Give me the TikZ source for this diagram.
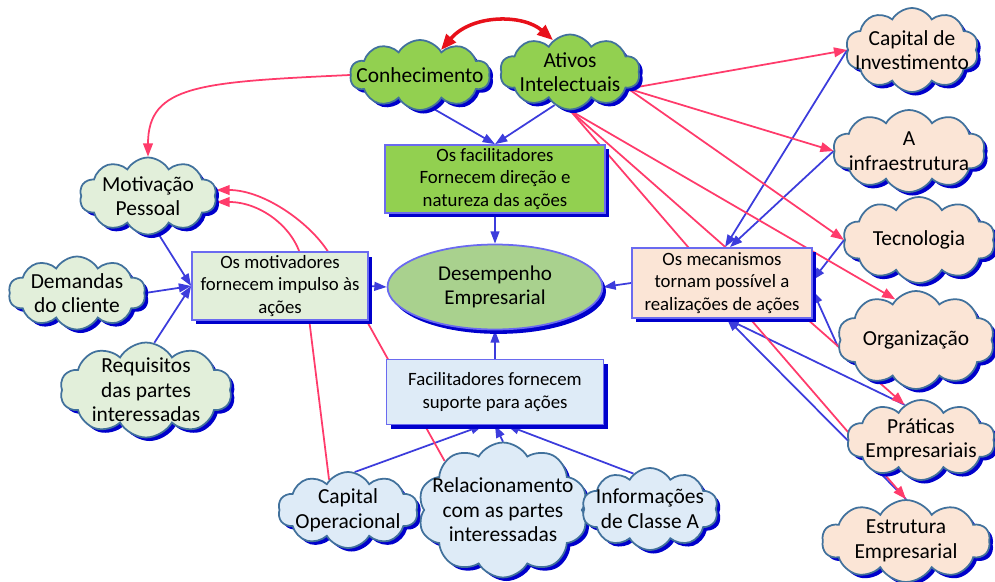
\documentclass[tikz,border=0pt]{standalone}
\usepackage{fontspec}
\setmainfont{Carlito}
\usetikzlibrary{shapes.symbols,shapes.geometric,arrows.meta,shadows,backgrounds,calc}
\definecolor{cloudB}{HTML}{41719C}
\definecolor{gr}{HTML}{92D050}
\definecolor{lgr}{HTML}{E2EFDA}
\definecolor{pch}{HTML}{FBE5D6}
\definecolor{lbl}{HTML}{DEEBF7}
\definecolor{ell}{HTML}{A9D18E}
\definecolor{shB}{HTML}{0000CC}
\definecolor{boxB}{HTML}{6A6AF0}
\definecolor{lnB}{HTML}{3C3CDC}
\definecolor{lnR}{HTML}{FF3B6B}
\definecolor{arR}{HTML}{E8101A}
\begin{document}
\begin{tikzpicture}[x=0.02cm,y=0.02cm,
  cl/.style={cloud, cloud puffs=10, cloud puff arc=120, cloud ignores aspect,
    draw=cloudB, line width=1pt, inner xsep=-22pt, inner ysep=-4pt, align=center,
    font=\fontsize{12.2}{14}\selectfont,
    drop shadow={fill=shB,opacity=1,shadow xshift=2pt,shadow yshift=-2pt}},
  bx/.style={rectangle, draw=boxB, line width=1pt, align=center, inner sep=2pt,
    font=\fontsize{10.7}{12.6}\selectfont,
    drop shadow={fill=shB,opacity=1,shadow xshift=2.5pt,shadow yshift=-2.5pt}},
  bl/.style={draw=lnB, line width=1pt, -{Triangle[length=7pt,width=5pt]}},
  rd/.style={draw=lnR, line width=1pt, -{Triangle[length=7.5pt,width=5.5pt]}},
]
\useasboundingbox (0,0) rectangle (995,-582);

% central
\node[cl, fill=gr, minimum width=2.8cm, minimum height=1.4cm] (conh) at (420,-75) {Conhecimento};
\node[cl, fill=gr, minimum width=2.8cm, minimum height=1.5cm] (ativos) at (570,-72) {Ativos\\Intelectuais};
\node[bx, fill=gr, minimum width=4.4cm, minimum height=1.36cm] (fac) at (495,-179) {Os facilitadores\\Fornecem direção e\\natureza das ações};
\node[ellipse, fill=ell, draw=boxB, line width=1pt, minimum width=4.3cm, minimum height=1.7cm,
  inner sep=0pt, align=center, font=\fontsize{12}{13.5}\selectfont,
  drop shadow={fill=shB,opacity=1,shadow xshift=2pt,shadow yshift=-2.5pt}] (des) at (495,-287) {Desempenho\\Empresarial};
\node[bx, fill=lgr, minimum width=3.52cm, minimum height=1.34cm] (motv) at (280,-286) {Os motivadores\\fornecem impulso às\\ações};
\node[bx, fill=pch, minimum width=3.6cm, minimum height=1.4cm] (mec) at (722,-283) {Os mecanismos\\tornam possível a\\realizações de ações};
\node[bx, fill=lbl, minimum width=4.34cm, minimum height=1.3cm] (sup) at (495,-392) {Facilitadores fornecem\\suporte para ações};

% left clouds
\node[cl, fill=lgr, minimum width=2.74cm, minimum height=1.54cm] (motP) at (148,-196) {Motivação\\Pessoal};
\node[cl, fill=lgr, minimum width=2.74cm, minimum height=1.46cm] (dem) at (77,-293) {Demandas\\do cliente};
\node[cl, fill=lgr, minimum width=3.44cm, minimum height=1.9cm] (req) at (146,-390) {Requisitos\\das partes\\interessadas};

% bottom clouds
\node[cl, fill=lbl, minimum width=2.8cm, minimum height=1.52cm] (capop) at (348,-510) {Capital\\Operacional};
\node[cl, fill=lbl, minimum width=3.4cm, minimum height=2.7cm] (rel) at (503,-510) {Relacionamento\\com as partes\\interessadas};
\node[cl, fill=lbl, minimum width=2.72cm, minimum height=1.64cm] (info) at (650,-509) {Informações\\de Classe A};

% right clouds
\node[cl, fill=pch, minimum width=2.66cm, minimum height=1.68cm] (capinv) at (912,-50) {Capital de\\Investimento};
\node[cl, fill=pch, minimum width=3.04cm, minimum height=1.64cm] (infra) at (909,-151) {A\\infraestrutura};
\node[cl, fill=pch, minimum width=3.04cm, minimum height=1.72cm] (tec) at (919,-240) {Tecnologia};
\node[cl, fill=pch, minimum width=3.14cm, minimum height=1.96cm] (org) at (916,-340) {Organização};
\node[cl, fill=pch, minimum width=2.96cm, minimum height=1.6cm] (prat) at (921,-440) {Práticas\\Empresariais};
\node[cl, fill=pch, minimum width=3.36cm, minimum height=1.64cm] (estr) at (906,-541) {Estrutura\\Empresarial};

\coordinate (k1) at (330,-255);
\coordinate (k2) at (302,-262);

\begin{pgfonlayer}{background}
% blue connectors
\draw[bl] (conh.-70) -- (fac.north);
\draw[bl] (ativos.-115) -- (fac.north);
\draw[bl] (fac.south) -- (des.north);
\draw[bl] (motv.east) -- (des.west);
\draw[bl] (mec.west) -- (des.east);
\draw[bl] (sup.north) -- (des.south);
\draw[bl] (motP.-75) -- (motv.west);
\draw[bl] (dem.east) -- (motv.west);
\draw[bl] (req.80) -- (motv.west);
\draw[bl] (capop.80) -- ($(sup.south)+(-12,0)$);
\draw[bl] (rel.north) -- (sup.south);
\draw[bl] (info.115) -- ($(sup.south)+(12,0)$);
\draw[bl] (capinv.west) -- ($(mec.north)+(3,0)$);
\draw[bl] (infra.west) -- ($(mec.north)+(8,0)$);
\draw[bl] (tec.west) -- ($(mec.east)+(0,3)$);
\draw[bl] (org.185) -- ($(mec.east)+(0,-8)$);
\draw[bl] (prat.115) -- ($(mec.south)+(5,0)$);
\draw[bl] (estr.north) -- ($(mec.south)+(5,0)$);
% red connectors
\draw[rd] (conh.west) .. controls (200,-82) and (148,-85) .. (motP.north);
\draw[rd] (rel.140) -- (k1) .. controls (313,-225) and (265,-190) .. (motP.5);
\draw[rd] (capop.122) -- (k2) .. controls (297,-230) and (262,-202) .. (motP.-5);
\draw[rd] (ativos.-16) -- (capinv.west);
\draw[rd] (ativos.-16) -- (infra.west);
\draw[rd] (ativos.-16) -- (tec.west);
\draw[rd] (ativos.south) -- (org.117);
\draw[rd] (ativos.south) -- (prat.115);
\draw[rd] (ativos.south) -- (estr.north);
\end{pgfonlayer}

\draw[arR, line width=2pt, {Triangle[length=9pt,width=7pt]}-{Triangle[length=9pt,width=7pt]}]
  (conh.50) .. controls (472,-14) and (523,-14) .. (ativos.118);
\end{tikzpicture}
\end{document}
